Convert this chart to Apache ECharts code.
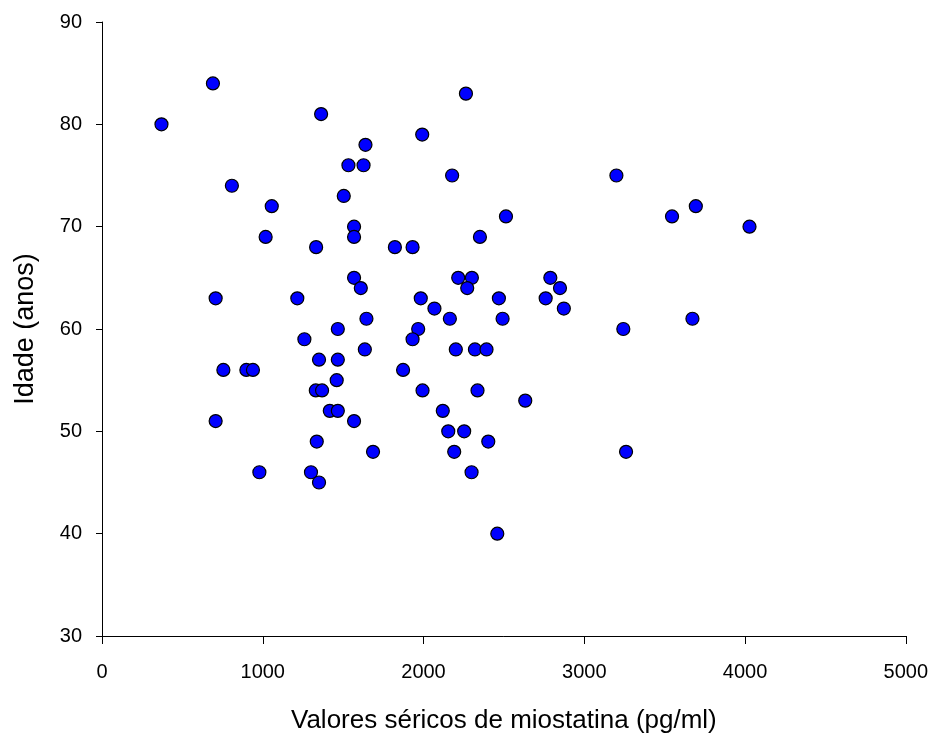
<!DOCTYPE html>
<html>
<head>
<meta charset="utf-8">
<script src="https://cdn.jsdelivr.net/npm/echarts@6/dist/echarts.min.js"></script>
<style>html,body{margin:0;padding:0;background:#fff;}#c{width:931px;height:743px;}</style>
</head>
<body>
<div id="c"></div>
<script>
// Serum myostatin (pg/ml)
var miostatina = [370, 690, 808, 1056, 1018, 707, 755, 707, 979, 898, 939,
  1363, 1992, 1639, 1533, 1627, 1504, 1568, 1568, 1332, 1822, 1932, 1568, 1610,
  1215, 1983, 2068, 1645, 1467, 1967, 1932, 1259, 1635, 1350, 1467, 1873, 1460,
  1330, 1369, 1994, 1417, 1467, 1568, 2120, 1336, 1686, 1300, 1350,
  2264, 2178, 3200, 2513, 2351, 2216, 2301, 2272, 2789, 2849, 2469, 2760, 2873,
  2164, 2492, 3243, 2201, 2320, 2392, 2336, 2633, 2154, 2253, 2403, 2191, 3260,
  2299, 2459, 3546, 3694, 4028, 3673];
// Age (years)
var idade = [80, 84, 74, 72, 69, 63, 56, 51, 46, 56, 56,
  81, 79, 78, 76, 76, 73, 70, 69, 68, 68, 68, 65, 64,
  63, 63, 62, 61, 60, 60, 59, 59, 58, 57, 57, 56, 55,
  54, 54, 54, 52, 52, 51, 52, 49, 48, 46, 45,
  83, 75, 75, 71, 69, 65, 65, 64, 65, 64, 63, 63, 62,
  61, 61, 60, 58, 58, 58, 54, 53, 50, 50, 49, 48, 48,
  46, 40, 71, 72, 70, 61];
var xTicks = [0, 1000, 2000, 3000, 4000, 5000];
var yTicks = [30, 40, 50, 60, 70, 80, 90];

var pts = miostatina.map(function (v, i) { return [v, idade[i]]; });
var font = '"Liberation Sans", Arial, sans-serif';
var chart = echarts.init(document.getElementById('c'), null, {renderer: 'canvas'});
chart.setOption({
  animation: false,
  backgroundColor: '#ffffff',
  grid: {left: 102, right: 25, top: 22, bottom: 107, containLabel: false},
  xAxis: {
    type: 'value', min: xTicks[0], max: xTicks[xTicks.length - 1], interval: 1000,
    name: 'Valores séricos de miostatina (pg/ml)',
    nameLocation: 'middle', nameGap: 72,
    nameTextStyle: {fontFamily: font, fontSize: 26, color: '#000'},
    axisLine: {show: true, onZero: false, lineStyle: {color: '#000', width: 1}},
    axisTick: {show: true, length: 8, inside: false, lineStyle: {color: '#000'}},
    axisLabel: {fontFamily: font, fontSize: 20, color: '#000', margin: 26,
      formatter: function (v) { return String(v); }},
    splitLine: {show: false}
  },
  yAxis: {
    type: 'value', min: yTicks[0], max: yTicks[yTicks.length - 1], interval: 10,
    name: 'Idade (anos)',
    nameLocation: 'middle', nameGap: 63,
    nameTextStyle: {fontFamily: font, fontSize: 27, color: '#000'},
    axisLine: {show: true, onZero: false, lineStyle: {color: '#000', width: 1}},
    axisTick: {show: true, length: 6, inside: false, lineStyle: {color: '#000'}},
    axisLabel: {fontFamily: font, fontSize: 20, color: '#000', margin: 20,
      formatter: function (v) { return String(v); }},
    splitLine: {show: false}
  },
  series: [{
    type: 'scatter',
    data: pts,
    symbol: 'circle',
    symbolSize: 13,
    itemStyle: {color: '#0000ff', borderColor: '#000', borderWidth: 1.2, opacity: 1}
  }]
});
</script>
</body>
</html>
